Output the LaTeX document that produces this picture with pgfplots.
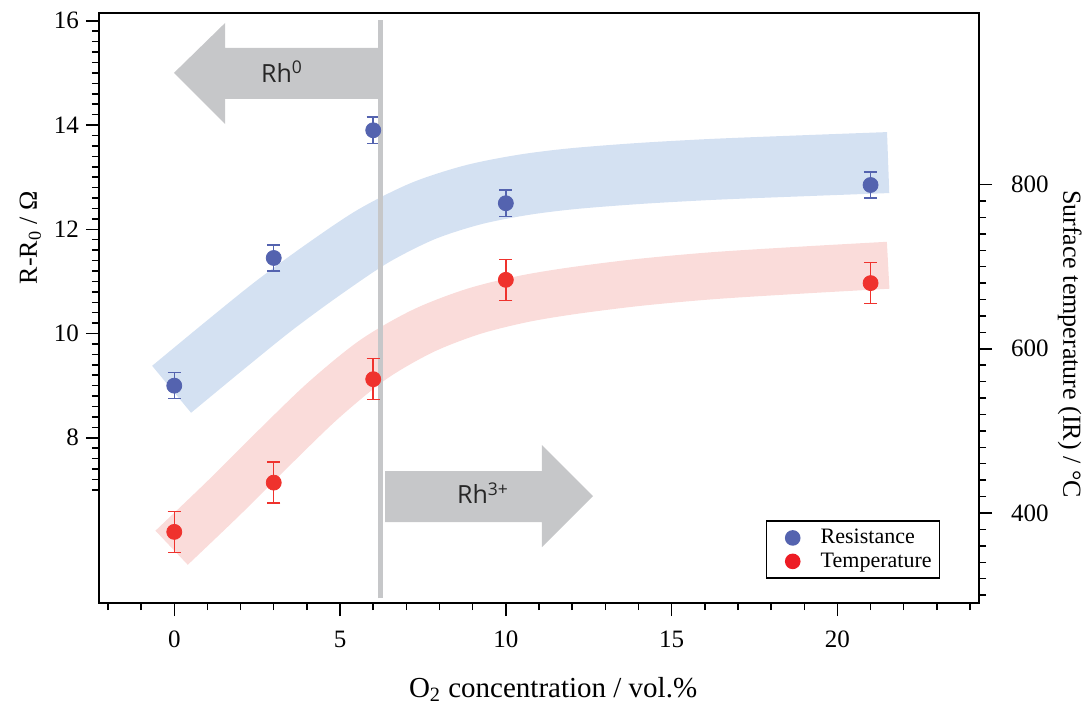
\documentclass[border=0pt]{standalone}
\usepackage{pgfplots}
\pgfplotsset{compat=1.18}
\usepackage{pgfplotstable}
\usepackage{fontspec}
\setmainfont{Liberation Serif}
\newfontfamily\rhfont{Open Sans}
\definecolor{mblue}{RGB}{84,99,175}
\definecolor{mred}{RGB}{239,50,45}
\definecolor{lred}{RGB}{237,28,36}
\definecolor{bblue}{RGB}{212,225,242}
\definecolor{bred}{RGB}{250,220,218}
\definecolor{agray}{RGB}{198,199,201}

\pgfplotstableread{
x y e
0 9.00 0.25
3 11.45 0.25
6 13.90 0.25
10 12.50 0.25
21 12.85 0.25
}\resdata
\pgfplotstableread{
x y e
0 377 25
3 437 25
6 563 25
10 684 25
21 680 25
}\tempdata

\pgfplotsset{
  common/.style={
    at={(0,0)}, anchor=south west, scale only axis,
    width=440bp, height=295bp,
    xmin=-2.27, xmax=24.27,
    axis line style={line width=0.75bp},
    every tick/.style={black, line width=0.75bp},
    tick align=outside, major tick length=6.5bp, minor tick length=3.5bp,
    xticklabel={\pgfmathprintnumber[assume math mode=true]{\tick}},
    yticklabel={\pgfmathprintnumber[assume math mode=true]{\tick}},
    ticklabel style={font=\rmfamily\fontsize{12.5bp}{14bp}\selectfont},
  }
}

\begin{document}
\begin{tikzpicture}
\path[use as bounding box] (-49.5bp,-53bp) rectangle (492bp,301.5bp);
\begin{axis}[common,
  ymin=4.83, ymax=16.15,
  xtick pos=left, ytick pos=left,
  xtick={0,5,10,15,20}, minor xtick={-2,-1,...,24},
  ytick={8,10,12,14,16}, minor ytick={7,7.2,...,16},
  xticklabel style={yshift=-4bp},
  xlabel={O\textsubscript{2} concentration / vol.\%},
  ylabel={R-R\textsubscript{0} / Ω},
  xlabel style={font=\fontsize{14.5bp}{16bp}\selectfont, at={(axis description cs:0.516,-0.147)}, anchor=center},
  ylabel style={font=\fontsize{13bp}{15bp}\selectfont, at={(axis description cs:-0.078,0.619)}, anchor=center},
]
% guide bands
\addplot[smooth, draw=bblue, line width=30.5bp, line cap=butt] coordinates {
(-0.08,8.93) (1.5,9.76) (3,10.53) (4.5,11.23) (6,11.87) (7.5,12.35) (9,12.66) (10.5,12.85) (12,12.97) (14,13.07) (16.25,13.15) (19,13.22) (21.53,13.28)};
\addplot[smooth, draw=bred, line width=23.5bp, line cap=butt] coordinates {
(-0.08,5.89) (1.5,6.85) (3,7.80) (4.5,8.72) (6,9.50) (7.5,10.05) (9,10.42) (10.5,10.66) (12,10.82) (14,10.98) (16.25,11.11) (19,11.22) (21.53,11.31)};
% resistance
\addplot[only marks, mark=*, mark size=3.75bp, color=mblue, mark options={fill=mblue, draw=none},
  error bars/.cd, y dir=both, y explicit,
  error bar style={line width=0.75bp, color=mblue},
  error mark options={rotate=90, mark size=3.3bp, line width=0.75bp, color=mblue}]
  table[x=x, y=y, y error=e] {\resdata};
% vertical separator
\addplot[draw=agray, line width=2.5bp] coordinates {(6.23,4.92) (6.23,16.02)};
% arrows
\fill[agray] (axis cs:6.20,15.48) -- (axis cs:1.535,15.48) -- (axis cs:1.535,15.96) -- (axis cs:-0.01,15.0)
  -- (axis cs:1.535,14.02) -- (axis cs:1.535,14.50) -- (axis cs:6.20,14.50) -- cycle;
\fill[agray] (axis cs:6.36,7.36) -- (axis cs:11.09,7.36) -- (axis cs:11.09,7.86) -- (axis cs:12.63,6.88)
  -- (axis cs:11.09,5.90) -- (axis cs:11.09,6.38) -- (axis cs:6.36,6.38) -- cycle;
\node[text=black!85, font=\rhfont\fontsize{12.5bp}{14bp}\selectfont] at (axis cs:3.25,15.02) {Rh\textsuperscript{0}};
\node[text=black!85, font=\rhfont\fontsize{12.5bp}{14bp}\selectfont] at (axis cs:9.31,6.94) {Rh\textsuperscript{3+}};
\end{axis}

\begin{axis}[common,
  ymin=290.4, ymax=1009,
  axis x line=none, axis y line*=right,
  ytick={400,600,800}, minor ytick={300,320,...,800},
  yticklabel style={xshift=6bp},
  ylabel={Surface temperature (IR) / °C},
  ylabel style={font=\fontsize{13bp}{15bp}\selectfont, at={(axis description cs:1.103,0.439)}, anchor=center, rotate=180},
  legend style={at={(axis description cs:0.956,0.041)}, anchor=south east,
    font=\fontsize{11bp}{13bp}\selectfont, draw=black, line width=0.75bp,
    inner xsep=2bp, inner ysep=2bp, row sep=-1bp},
  legend cell align=left,
]
\addlegendimage{legend image code/.code={\path[draw=none, fill=none] (-11bp,0bp) rectangle (12bp,0.1bp); \path[draw=none, fill=mblue] (0bp,0bp) circle (3.9bp);}}
\addlegendentry{Resistance}
\addlegendimage{legend image code/.code={\path[draw=none, fill=none] (-11bp,0bp) rectangle (12bp,0.1bp); \path[draw=none, fill=lred] (0bp,0bp) circle (3.9bp);}}
\addlegendentry{Temperature}
\addplot[forget plot, only marks, mark=*, mark size=3.75bp, color=mred, mark options={fill=mred, draw=none},
  error bars/.cd, y dir=both, y explicit,
  error bar style={line width=0.75bp, color=mred},
  error mark options={rotate=90, mark size=3.3bp, line width=0.75bp, color=mred}]
  table[x=x, y=y, y error=e] {\tempdata};
\end{axis}
\end{tikzpicture}
\end{document}
